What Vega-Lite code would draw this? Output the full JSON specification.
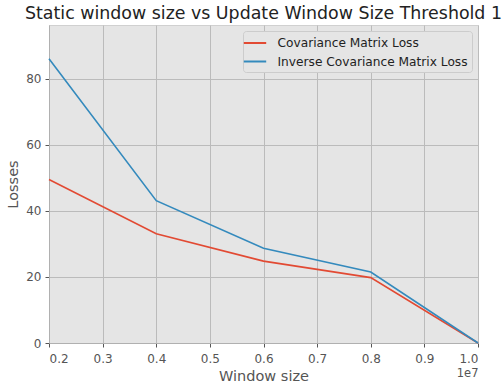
{
  "$schema": "https://vega.github.io/schema/vega-lite/v6.json",
  "autosize": {"type": "none"},
  "width": 429,
  "height": 318,
  "padding": {"left": 49, "top": 25, "right": 24, "bottom": 47},
  "background": "white",
  "config": {
    "font": "DejaVu Sans",
    "view": {"fill": "#E5E5E5", "stroke": "#d0d0d0"}
  },
  "title": {
    "text": "Static window size vs Update Window Size Threshold 1",
    "fontSize": 17.4,
    "fontWeight": "normal",
    "color": "#222222",
    "anchor": "middle",
    "frame": "group",
    "offset": 3
  },
  "data": {
    "values": [
      {"window": 2000000, "loss": 49.5, "series": "Covariance Matrix Loss"},
      {"window": 4000000, "loss": 33.1, "series": "Covariance Matrix Loss"},
      {"window": 6000000, "loss": 24.8, "series": "Covariance Matrix Loss"},
      {"window": 8000000, "loss": 19.8, "series": "Covariance Matrix Loss"},
      {"window": 10000000, "loss": 0, "series": "Covariance Matrix Loss"},
      {"window": 2000000, "loss": 86.1, "series": "Inverse Covariance Matrix Loss"},
      {"window": 4000000, "loss": 43.1, "series": "Inverse Covariance Matrix Loss"},
      {"window": 6000000, "loss": 28.7, "series": "Inverse Covariance Matrix Loss"},
      {"window": 8000000, "loss": 21.5, "series": "Inverse Covariance Matrix Loss"},
      {"window": 10000000, "loss": 0, "series": "Inverse Covariance Matrix Loss"}
    ]
  },
  "resolve": {"axis": {"x": "independent"}},
  "layer": [
    {
      "mark": {"type": "line", "strokeWidth": 1.6, "clip": false},
      "encoding": {
        "x": {
          "field": "window",
          "type": "quantitative",
          "scale": {"domain": [2000000, 10000000], "nice": false, "zero": false},
          "axis": {
            "orient": "bottom",
            "title": "Window size",
            "values": [2000000, 3000000, 4000000, 5000000, 6000000, 7000000, 8000000, 9000000, 10000000],
            "labelExpr": "format(datum.value / 1e7, '.1f')",
            "labelFontSize": 12,
            "labelColor": "#555555",
            "labelPadding": 6,
            "titleFontSize": 14.5,
            "titleFontWeight": "normal",
            "titleColor": "#555555",
            "titlePadding": 5,
            "tickColor": "#555555",
            "tickSize": 4,
            "domainColor": "#b0b0b0",
            "grid": true,
            "gridColor": "#bbbbbb",
            "gridWidth": 1
          }
        },
        "y": {
          "field": "loss",
          "type": "quantitative",
          "scale": {"domain": [0, 96.3], "nice": false},
          "axis": {
            "title": "Losses",
            "values": [0, 20, 40, 60, 80],
            "labelFontSize": 12,
            "labelColor": "#555555",
            "labelPadding": 4,
            "titleFontSize": 14.5,
            "titleFontWeight": "normal",
            "titleColor": "#555555",
            "titlePadding": 5,
            "tickColor": "#555555",
            "tickSize": 4,
            "domainColor": "#b0b0b0",
            "grid": true,
            "gridColor": "#bbbbbb",
            "gridWidth": 1
          }
        },
        "color": {
          "field": "series",
          "type": "nominal",
          "scale": {
            "domain": ["Covariance Matrix Loss", "Inverse Covariance Matrix Loss"],
            "range": ["#E24A33", "#348ABD"]
          },
          "legend": {
            "title": null,
            "orient": "top-right",
            "offset": 6,
            "symbolType": "M-1.6,0H1.6",
            "symbolSize": 196,
            "symbolStrokeWidth": 2,
            "labelFontSize": 12.2,
            "labelColor": "#222222",
            "labelOffset": 14.5,
            "rowPadding": 3.5,
            "padding": 4,
            "fillColor": "#E5E5E5",
            "strokeColor": "#cccccc",
            "cornerRadius": 3,
            "labelLimit": 300
          }
        }
      }
    },
    {
      "mark": {"type": "line", "opacity": 0},
      "encoding": {
        "x": {
          "field": "window",
          "type": "quantitative",
          "axis": {
            "orient": "bottom",
            "title": "1e7",
            "titleAnchor": "end",
            "titleFontSize": 11.5,
            "titleFontWeight": "normal",
            "titleColor": "#555555",
            "labels": false,
            "ticks": false,
            "domain": false,
            "grid": false,
            "offset": 24,
            "titlePadding": 0
          }
        },
        "y": {"field": "loss", "type": "quantitative"},
        "detail": {"field": "series"}
      }
    }
  ]
}
